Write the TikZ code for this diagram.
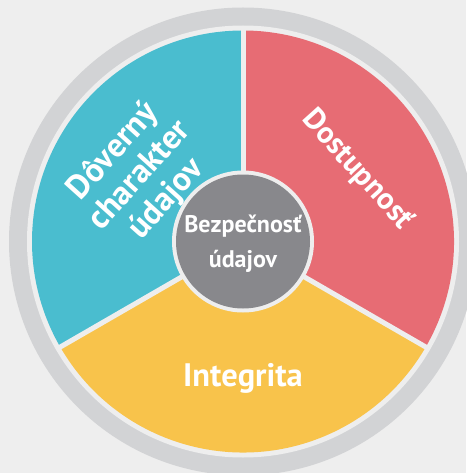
\documentclass[tikz,border=0pt]{standalone}
\usepackage{fontspec}
\usetikzlibrary{calc}
\setmainfont{PT Sans}
\definecolor{bgc}{HTML}{EEEEEE}
\definecolor{ringc}{HTML}{D2D3D5}
\definecolor{tealc}{HTML}{4ABDCF}
\definecolor{redc}{HTML}{E76C74}
\definecolor{yelc}{HTML}{F8C34B}
\definecolor{greyc}{HTML}{88888C}
\tikzset{
  seclabel/.style={text=white, font=\bfseries\fontsize{33.5}{35.5}\selectfont, align=center, inner sep=0pt},
  sepline/.style={draw=bgc, line width=5pt},
}
\begin{document}
\begin{tikzpicture}[x=1pt,y=1pt]
\fill[bgc] (0,0) rectangle (466,-473);
\useasboundingbox (0,0) rectangle (466,-473);
\coordinate (C) at (243,-241.5);
\fill[ringc] (C) circle (234);
\fill[bgc] (C) circle (216);
\fill[tealc] (C) -- ++(90:211) arc (90:210:211) -- cycle;
\fill[yelc] (C) -- ++(210:211) arc (210:330:211) -- cycle;
\fill[redc] (C) -- ++(330:211) arc (-30:90:211) -- cycle;
\coordinate (S1) at ($(C)+(90:213)$);
\coordinate (S2) at ($(C)+(210:213)$);
\coordinate (S3) at ($(C)+(330:213)$);
\draw[sepline] (C) -- (S1);
\draw[sepline] (C) -- (S2);
\draw[sepline] (C) -- (S3);
\fill[bgc] (C) circle (71);
\node[circle, fill=greyc, minimum size=134pt, inner sep=0pt] (core) at (C) {};
\node[text=white, font=\bfseries\fontsize{24}{35}\selectfont, align=center, inner sep=0pt] (coretext) at (243,-244) {Bezpečnosť\\údajov};
\node[seclabel, rotate=48] (conf) at (140,-175.5) {Dôverný\\charakter\\údajov};
\node[seclabel, font=\bfseries\fontsize{30.5}{31}\selectfont, rotate=-48] (avail) at (357,-170) {Dostupnosť};
\node[seclabel, font=\bfseries\fontsize{32.5}{33}\selectfont] (integ) at (243,-378) {Integrita};
\end{tikzpicture}
\end{document}
